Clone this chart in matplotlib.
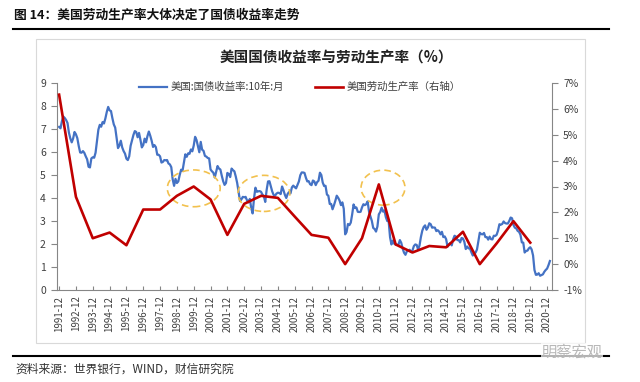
import matplotlib
matplotlib.use('Agg')
import matplotlib.pyplot as plt
from matplotlib.patches import Ellipse, Rectangle
from matplotlib.lines import Line2D
import pandas as pd

plt.rcParams['font.family'] = ['Noto Sans CJK SC', 'DejaVu Sans']
plt.rcParams['axes.unicode_minus'] = False

# 美国10年期国债收益率（月度，%），1991-12 起
yield_10y = [
    7.09,                                                                          # 1991-12
    7.03, 7.34, 7.54, 7.48, 7.39, 7.26, 6.84, 6.59, 6.42, 6.59, 6.87, 6.77,  # 1992
    6.60, 6.26, 5.98, 5.97, 6.04, 5.96, 5.81, 5.68, 5.36, 5.33, 5.72, 5.77,  # 1993
    5.75, 5.97, 6.48, 6.97, 7.18, 7.10, 7.30, 7.24, 7.46, 7.74, 7.96, 7.81,  # 1994
    7.78, 7.47, 7.20, 7.06, 6.63, 6.17, 6.28, 6.49, 6.20, 6.04, 5.93, 5.71,  # 1995
    5.65, 5.81, 6.27, 6.51, 6.74, 6.91, 6.87, 6.64, 6.83, 6.53, 6.20, 6.30,  # 1996
    6.58, 6.42, 6.69, 6.89, 6.71, 6.49, 6.22, 6.30, 6.21, 5.88, 5.88, 5.81,  # 1997
    5.54, 5.57, 5.65, 5.64, 5.65, 5.50, 5.46, 5.34, 4.81, 4.53, 4.83, 4.65,  # 1998
    4.72, 5.00, 5.23, 5.18, 5.54, 5.90, 5.79, 5.94, 5.92, 6.11, 6.03, 6.28,  # 1999
    6.66, 6.52, 6.26, 5.99, 6.44, 6.10, 6.05, 5.83, 5.80, 5.74, 5.72, 5.24,  # 2000
    5.16, 5.10, 4.89, 5.14, 5.39, 5.28, 5.24, 4.97, 4.73, 4.57, 4.65, 5.09,  # 2001
    5.04, 4.91, 5.28, 5.21, 5.16, 4.93, 4.65, 4.26, 3.87, 3.94, 4.05, 4.03,  # 2002
    4.05, 3.90, 3.81, 3.96, 3.57, 3.33, 3.98, 4.45, 4.27, 4.29, 4.30, 4.27,  # 2003
    4.15, 4.08, 3.83, 4.35, 4.72, 4.73, 4.50, 4.28, 4.13, 4.10, 4.19, 4.23,  # 2004
    4.22, 4.17, 4.50, 4.34, 4.14, 4.00, 4.18, 4.26, 4.20, 4.46, 4.54, 4.47,  # 2005
    4.42, 4.57, 4.72, 4.99, 5.11, 5.11, 5.09, 4.88, 4.72, 4.73, 4.60, 4.56,  # 2006
    4.76, 4.72, 4.56, 4.69, 4.75, 5.10, 5.00, 4.67, 4.52, 4.53, 4.15, 4.10,  # 2007
    3.74, 3.74, 3.51, 3.68, 3.88, 4.10, 4.01, 3.89, 3.69, 3.81, 3.53, 2.42,  # 2008
    2.52, 2.87, 2.82, 2.93, 3.29, 3.72, 3.56, 3.59, 3.40, 3.39, 3.40, 3.59,  # 2009
    3.73, 3.69, 3.73, 3.85, 3.42, 3.20, 3.01, 2.70, 2.65, 2.54, 2.76, 3.29,  # 2010
    3.39, 3.58, 3.41, 3.46, 3.17, 3.00, 3.00, 2.30, 1.98, 2.15, 2.01, 1.98,  # 2011
    1.97, 1.97, 2.17, 2.05, 1.80, 1.62, 1.53, 1.68, 1.72, 1.75, 1.65, 1.72,  # 2012
    1.91, 1.98, 1.96, 1.76, 1.93, 2.30, 2.58, 2.74, 2.81, 2.62, 2.72, 2.90,  # 2013
    2.86, 2.71, 2.72, 2.71, 2.56, 2.60, 2.54, 2.42, 2.53, 2.30, 2.33, 2.21,  # 2014
    1.88, 1.98, 2.04, 1.94, 2.20, 2.36, 2.32, 2.17, 2.17, 2.07, 2.26, 2.24,  # 2015
    2.09, 1.78, 1.89, 1.81, 1.81, 1.64, 1.50, 1.56, 1.63, 1.76, 2.14, 2.49,  # 2016
    2.43, 2.42, 2.48, 2.30, 2.30, 2.19, 2.32, 2.21, 2.20, 2.36, 2.35, 2.40,  # 2017
    2.58, 2.86, 2.84, 2.87, 2.98, 2.91, 2.89, 2.89, 3.00, 3.15, 3.12, 2.83,  # 2018
    2.71, 2.68, 2.57, 2.53, 2.40, 2.07, 2.06, 1.63, 1.70, 1.71, 1.81, 1.86,  # 2019
    1.76, 1.50, 0.87, 0.66, 0.67, 0.73, 0.62, 0.65, 0.68, 0.79, 0.87, 0.93,  # 2020
    1.08, 1.26,                                                              # 2021
]

# 美国劳动生产率（年度，%），每年12月
prod_years = list(range(1991, 2020))
productivity = [
    6.55, 2.60, 1.00, 1.22, 0.73, 2.11, 2.11, 2.64, 3.00, 2.50,
    1.13, 2.33, 2.64, 2.56, 1.84, 1.13, 1.02, 0.00, 1.00, 3.08,
    0.76, 0.45, 0.70, 0.65, 1.25, 0.00, 0.80, 1.66, 0.83,
]

tick_years = list(range(1991, 2021))
left_ticks = list(range(0, 10))
right_ticks = list(range(-1, 8))

# 黄色虚线圈：(中心月份, 中心值, 宽(月), 高)
circles = [
    ('1999-12', 4.42, 37.7, 1.60),
    ('2004-02', 4.20, 37.0, 1.57),
    ('2011-03', 4.45, 31.3, 1.52),
]

months = pd.period_range('1991-12', periods=len(yield_10y), freq='M')
month_idx = {str(p): i for i, p in enumerate(months)}
x_yield = list(range(len(yield_10y)))
x_prod = [month_idx[f'{y}-12'] for y in prod_years]
x_ticks = [month_idx[f'{y}-12'] for y in tick_years]

BLUE = '#4472C4'
RED = '#C00000'
AXIS_GRAY = '#868686'
TEXT = '#404040'

fig = plt.figure(figsize=(6.4, 3.82), dpi=100)
ax = fig.add_axes([57 / 640, 1 - 290 / 382, 495 / 640, 207 / 382])
ax2 = ax.twinx()

l1, = ax.plot(x_yield, yield_10y, color=BLUE, lw=1.6, label='美国:国债收益率:10年:月')
l2, = ax2.plot(x_prod, productivity, color=RED, lw=1.9, label='美国劳动生产率（右轴）')

ax.set_xlim(-1.5, 351.5)
ax.set_ylim(0, 9)
ax2.set_ylim(-1, 7)

ax.set_xticks(x_ticks)
ax.set_xticklabels([f'{y}-12' for y in tick_years], rotation=90)
ax.set_yticks(left_ticks)
ax2.set_yticks(right_ticks)
ax2.set_yticklabels([f'{v}%' for v in right_ticks])

ax.tick_params(axis='x', direction='in', length=3, color=AXIS_GRAY,
               labelsize=7, labelcolor=TEXT, pad=4)
ax.tick_params(axis='y', direction='out', length=4, color=AXIS_GRAY,
               labelsize=7.5, labelcolor=TEXT, pad=4)
ax2.tick_params(axis='y', direction='out', length=4, color=AXIS_GRAY,
                labelsize=7.5, labelcolor=TEXT, pad=4)

for s in ['top', 'right']:
    ax.spines[s].set_visible(False)
for s in ['top', 'left', 'bottom']:
    ax2.spines[s].set_visible(False)
for s in ['left', 'bottom']:
    ax.spines[s].set_color(AXIS_GRAY)
    ax.spines[s].set_linewidth(0.8)
ax2.spines['right'].set_color(AXIS_GRAY)
ax2.spines['right'].set_linewidth(0.8)

for month, cy, w, h in circles:
    ax.add_patch(Ellipse((month_idx[month], cy), w, h, fill=False,
                         edgecolor='#F2C14E', lw=1.2, ls=(0, (4, 2.5)), zorder=5))

leg = ax2.legend(handles=[l1, l2], loc='center', bbox_to_anchor=(0.49, 0.98),
                 ncol=2, frameon=False, fontsize=7.5, handlelength=2.7,
                 handletextpad=0.3, columnspacing=3.0)
for t in leg.get_texts():
    t.set_color(TEXT)

# 外框、标题与说明
fig.add_artist(Rectangle((36 / 640, 1 - 343 / 382), 549 / 640, 304 / 382,
                         transform=fig.transFigure, fill=False,
                         edgecolor='#d9d9d9', lw=0.8))
fig.text(336 / 640, 1 - 57 / 382, '美国国债收益率与劳动生产率（%）',
         ha='center', va='center', fontsize=10.5, weight='bold', color='#222222')
fig.text(14 / 640, 1 - 15 / 382, '图 14：美国劳动生产率大体决定了国债收益率走势',
         ha='left', va='center', fontsize=9.2, weight='bold', color='#111111')
fig.add_artist(Line2D([13 / 640, 609 / 640], [1 - 29 / 382] * 2,
                      transform=fig.transFigure, color='black', lw=1.5))
fig.add_artist(Line2D([13 / 640, 609 / 640], [1 - 356 / 382] * 2,
                      transform=fig.transFigure, color='black', lw=1.5))
fig.text(15 / 640, 1 - 369 / 382, '资料来源：世界银行，WIND，财信研究院',
         ha='left', va='center', fontsize=8.5, color='#333333')
fig.text(572 / 640, 1 - 352 / 382, '明察宏观', ha='center', va='center',
         fontsize=11, color='#b8b8b8',
         bbox=dict(facecolor='white', edgecolor='none', pad=0.5, alpha=0.7))

fig.savefig('out.png', dpi=100)
